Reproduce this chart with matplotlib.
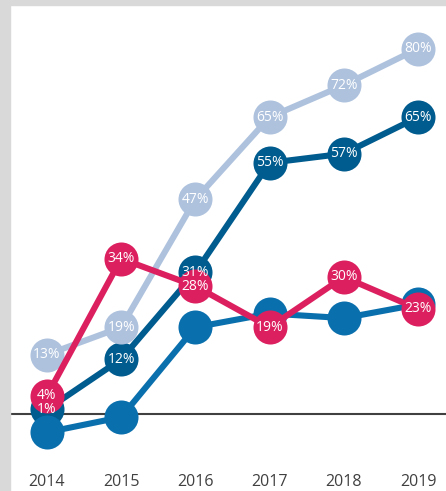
import matplotlib.pyplot as plt
from matplotlib.patches import Rectangle

years = [2014, 2015, 2016, 2017, 2018, 2019]
dark_blue = [1, 12, 31, 55, 57, 65]
mid_blue = [-4, -0.7, 19, 22, 21, 24]
pink = [4, 34, 28, 19, 30, 23]
light_blue = [13, 19, 47, 65, 72, 80]

plt.rcParams["font.family"] = ["Open Sans", "DejaVu Sans"]

fig = plt.figure(figsize=(4.46, 4.91), dpi=100)
ax = fig.add_axes([0, 0, 1, 1])
ax.set_xlim(2013.367, 2019.377)
ax.set_ylim(-16.86, 90.65)
ax.axis("off")

# grey frame left and top
fig.patches.append(Rectangle((0, 0), 10 / 446, 1, transform=fig.transFigure,
                             color="#d9d9d9", zorder=0))
fig.patches.append(Rectangle((0, 1 - 5 / 491), 1, 5 / 491, transform=fig.transFigure,
                             color="#d9d9d9", zorder=0))

# zero line
ax.plot([2013.367 + 10 / 74.2, 2019.377], [0, 0], color="#404040", lw=1.5, zorder=1)

series = [
    (dark_blue, "#005b8e", True, 2),
    (mid_blue, "#0a6fad", False, 3),
    (pink, "#dc205f", True, 5),
    (light_blue, "#aec2de", True, 4),
]
for vals, col, lab, z in series:
    ax.plot(years, vals, color=col, lw=4.4, marker="o", ms=24.5,
            markeredgewidth=0, solid_capstyle="round", zorder=z)

for vals, col, lab, z in series:
    if lab:
        for x, v in zip(years, vals):
            ax.text(x, v, f"{v}%", color="white", fontsize=10, ha="center",
                    va="center", zorder=10)

for x in years:
    ax.text(x, -14.9, str(x), color="#404040", fontsize=11.5, ha="center",
            va="center")

fig.savefig("out.png", dpi=100)
